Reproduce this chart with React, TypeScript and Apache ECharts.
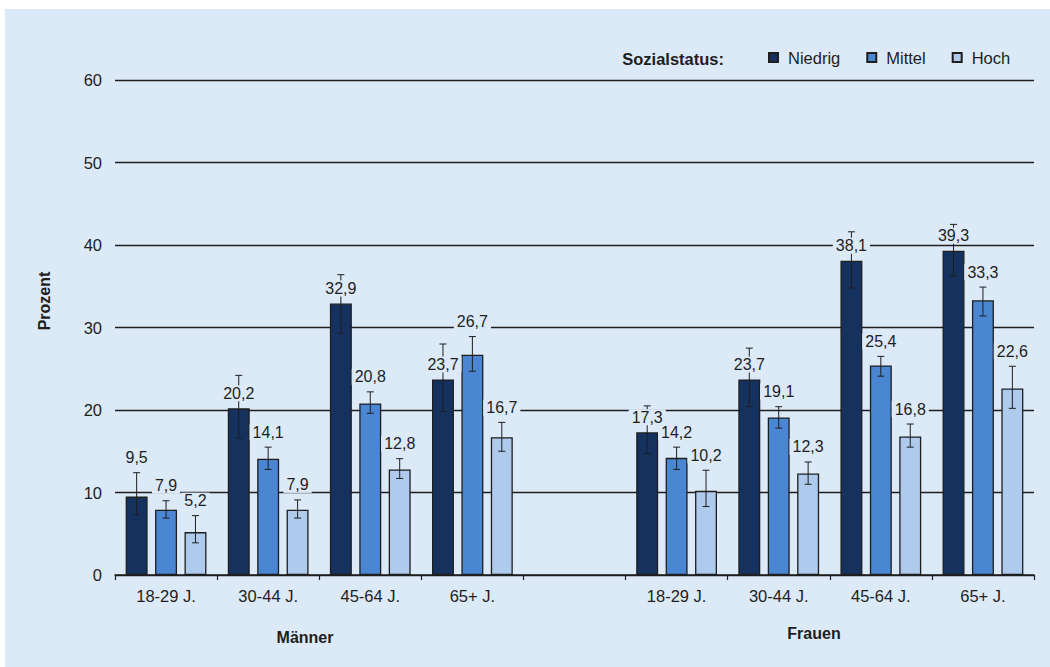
import React, { useEffect, useRef } from "react";
import * as echarts from "echarts";

// Age groups for men (left block) and women (right block), separated by an empty slot
const categories = ["18-29 J.", "30-44 J.", "45-64 J.", "65+ J.", "", "18-29 J.", "30-44 J.", "45-64 J.", "65+ J."];
const statusNames = ["Niedrig", "Mittel", "Hoch"];

// Prevalence in percent per social status
const niedrig = [9.5, 20.2, 32.9, 23.7, null, 17.3, 23.7, 38.1, 39.3];
const mittel = [7.9, 14.1, 20.8, 26.7, null, 14.2, 19.1, 25.4, 33.3];
const hoch = [5.2, 7.9, 12.8, 16.7, null, 10.2, 12.3, 16.8, 22.6];

// 95% confidence intervals (lower / upper bound)
const niedrigLow = [7.3, 16.6, 29.3, 19.8, null, 14.7, 20.4, 34.8, 36.2];
const niedrigHigh = [12.4, 24.2, 36.4, 28.0, null, 20.5, 27.5, 41.6, 42.5];
const mittelLow = [6.9, 12.8, 19.6, 24.7, null, 12.8, 17.8, 24.1, 31.4];
const mittelHigh = [9.0, 15.5, 22.2, 28.9, null, 15.5, 20.4, 26.5, 34.9];
const hochLow = [3.9, 6.9, 11.7, 15.0, null, 8.3, 11.0, 15.5, 20.2];
const hochHigh = [7.2, 9.1, 14.1, 18.5, null, 12.7, 13.7, 18.3, 25.3];

const yTicks = { min: 0, max: 60, interval: 10 };

const BG = "#dce9f7";
const INK = "#1e1e1e";
const FONT = "'Liberation Sans', Arial, Helvetica, sans-serif";
const COLORS = ["#15325f", "#4a86d2", "#aecaec"];
const BAR_WIDTH = 0.215; // share of the category band
const BAR_GAP = 0.34; // share of the bar width

const values = [niedrig, mittel, hoch];
const lows = [niedrigLow, mittelLow, hochLow];
const highs = [niedrigHigh, mittelHigh, hochHigh];

const fmt = (v: number) => v.toFixed(1).replace(".", ",");

export default function App() {
  const ref = useRef<HTMLDivElement>(null);

  useEffect(() => {
    if (!ref.current) return;
    const chart = echarts.init(ref.current, null, { renderer: "svg" });

    // [category, status, value, low, high]
    const errData: number[][] = [];
    values.forEach((arr, s) => {
      arr.forEach((v, c) => {
        if (v == null) return;
        errData.push([c, s, v, lows[s][c] as number, highs[s][c] as number]);
      });
    });

    const barSeries = statusNames.map((name, s) => ({
      name,
      type: "bar",
      data: values[s].map((v) => (v == null ? "-" : v)),
      barWidth: `${BAR_WIDTH * 100}%`,
      barGap: `${BAR_GAP * 100}%`,
      z: 2,
      itemStyle: { color: COLORS[s], borderColor: INK, borderWidth: 1.3 },
      silent: true,
    }));

    const boldText = (text: string, x: number, y: number, rotation = 0) => ({
      type: "text",
      x,
      y,
      rotation,
      style: {
        text,
        fontFamily: FONT,
        fontSize: 16,
        fontWeight: "bold",
        fill: INK,
        align: "center",
        verticalAlign: "middle",
      },
    });

    const option: any = {
      animation: false,
      backgroundColor: BG,
      textStyle: { fontFamily: FONT },
      grid: { left: 110, right: 16, top: 71, bottom: 92 },
      legend: {
        data: statusNames,
        left: 763,
        top: 40,
        padding: 0,
        icon: "rect",
        itemWidth: 9,
        itemHeight: 9,
        itemGap: 26,
        textStyle: { fontFamily: FONT, fontSize: 16.5, color: INK, padding: [0, 0, 0, 5] },
      },
      xAxis: {
        type: "category",
        data: categories,
        axisLine: { lineStyle: { color: INK, width: 1.5 } },
        axisTick: { show: true, length: 5, lineStyle: { color: INK, width: 1.2 } },
        axisLabel: { color: INK, fontSize: 16.5, fontFamily: FONT, margin: 12 },
      },
      yAxis: {
        type: "value",
        min: yTicks.min,
        max: yTicks.max,
        interval: yTicks.interval,
        axisLine: { show: false },
        axisTick: { show: false },
        axisLabel: { color: INK, fontSize: 16.5, fontFamily: FONT, margin: 13 },
        splitLine: { lineStyle: { color: INK, width: 1.3 } },
      },
      graphic: [
        {
          type: "text",
          x: 719,
          y: 50,
          style: {
            text: "Sozialstatus:",
            fontFamily: FONT,
            fontSize: 16.5,
            fontWeight: "bold",
            fill: INK,
            align: "right",
            verticalAlign: "middle",
          },
        },
        boldText("Prozent", 39, 292, Math.PI / 2),
        boldText("Männer", 300, 628),
        boldText("Frauen", 809, 624),
      ],
      series: [
        ...barSeries,
        {
          type: "custom",
          name: "ci",
          z: 3,
          silent: true,
          encode: { x: 0, y: 4 },
          data: errData,
          renderItem: (params: any, api: any) => {
            const c = api.value(0);
            const s = api.value(1);
            const v = api.value(2);
            const lo = api.value(3);
            const hi = api.value(4);
            const band = api.size([1, 0])[0];
            const w = band * BAR_WIDTH;
            const dx = (s - 1) * w * (1 + BAR_GAP);
            const pHi = api.coord([c, hi]);
            const pLo = api.coord([c, lo]);
            const pV = api.coord([c, v]);
            const x = pHi[0] + dx;
            const cap = 3.5;
            const line = { stroke: INK, lineWidth: 1 };
            // long upper whiskers: the label sits just above the bar and covers the whisker
            const anchorY = hi - v > 3 ? pV[1] : pHi[1];
            return {
              type: "group",
              children: [
                { type: "line", shape: { x1: x, y1: pLo[1], x2: x, y2: pHi[1] }, style: line },
                { type: "line", shape: { x1: x - cap, y1: pHi[1], x2: x + cap, y2: pHi[1] }, style: line },
                { type: "line", shape: { x1: x - cap, y1: pLo[1], x2: x + cap, y2: pLo[1] }, style: line },
                {
                  type: "text",
                  z2: 10,
                  x,
                  y: anchorY - 15,
                  style: {
                    text: fmt(v),
                    fontFamily: FONT,
                    fontSize: 16,
                    fill: INK,
                    align: "center",
                    verticalAlign: "middle",
                    backgroundColor: BG,
                    padding: [0, 3, 0, 3],
                  },
                },
              ],
            };
          },
        },
      ],
    };

    chart.setOption(option);
    return () => chart.dispose();
  }, []);

  return (
    <div
      ref={ref}
      style={{ position: "absolute", left: 5, top: 9, width: 1045, height: 658 }}
    />
  );
}
